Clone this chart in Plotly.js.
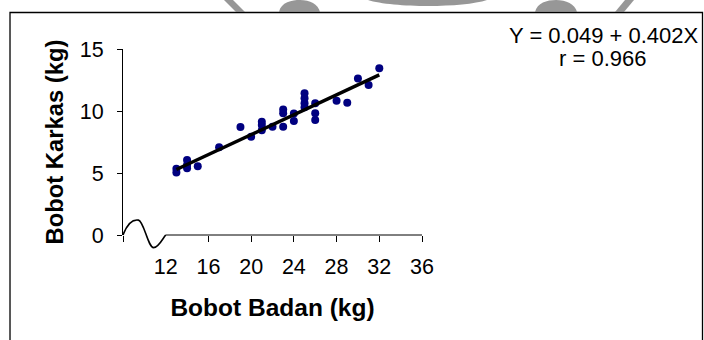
<!DOCTYPE html>
<html>
<head>
<meta charset="utf-8">
<script src="https://cdn.plot.ly/plotly-3.0.1.min.js"></script>
<style>
html,body{margin:0;padding:0;background:#fff;}
#chart{width:704px;height:340px;}
</style>
</head>
<body>
<div id="chart"></div>
<script>
// Data
var bobotBadan  = [13, 13, 14, 14, 14, 15, 17, 19, 20, 21, 21, 21, 22, 23, 23, 23, 24, 24, 25, 25, 25, 25, 26, 26, 26, 28, 29, 30, 31, 32];
var bobotKarkas = [5.35, 5.05, 6.05, 5.65, 5.38, 5.55, 7.07, 8.7, 7.92, 9.14, 8.87, 8.45, 8.73, 10.13, 9.81, 8.73, 9.8, 9.19, 11.43, 11.02, 10.62, 10.3, 10.63, 9.81, 9.27, 10.83, 10.67, 12.63, 12.1, 13.44];
var fitX = [13, 32];
var fitY = [5.28, 12.91];
var xTickVals = [12, 16, 20, 24, 28, 32, 36];
var xTickText = ['12', '16', '20', '24', '28', '32', '36'];
var yTickVals = [0, 5, 10, 15];
var eqLine1 = 'Y = 0.049 + 0.402X';
var eqLine2 = 'r = 0.966';

var FONT = '"Liberation Sans", Arial, sans-serif';

// layout geometry
var W = 704, H = 340, L = 123, R = 282, T = 49, B = 105;
var pw = W - L - R, ph = H - T - B;
function px(xp) { return (xp - L) / pw; }
function py(yp) { return (H - B - yp) / ph; }

var traces = [
  {
    x: bobotBadan, y: bobotKarkas, type: 'scatter', mode: 'markers',
    marker: {color: '#000080', size: 8},
    cliponaxis: false, hoverinfo: 'x+y', showlegend: false
  },
  {
    x: fitX, y: fitY, type: 'scatter', mode: 'lines',
    line: {color: '#000000', width: 3.5}, showlegend: false
  }
];

var grey = 'rgba(125,125,125,0.8)';
function P(a, b) { return px(a).toFixed(4) + ',' + py(b).toFixed(4); }

var shapes = [
  // x axis line (after the break)
  {type: 'line', xref: 'x', yref: 'paper', x0: 12, x1: 36, y0: 0, y1: 0,
   line: {color: '#000', width: 1}},
  // axis break wave
  {type: 'path', xref: 'x', yref: 'paper',
   path: 'M 8,0 C 8.4,0.06 8.95,0.085 9.45,0.08 C 9.95,0.075 10.35,-0.068 10.86,-0.068 C 11.35,-0.068 11.7,-0.02 12,0',
   line: {color: '#000', width: 1.6}},
  // outer frame
  {type: 'path', xref: 'paper', yref: 'paper',
   path: 'M ' + P(10, 345) + ' L ' + P(10, 12.5) + ' L ' + P(702.5, 12.5) + ' L ' + P(702.5, 345),
   line: {color: '#000', width: 1.3}},
  // watermark fragments above the frame
  {type: 'path', xref: 'paper', yref: 'paper', fillcolor: grey, line: {width: 0},
   path: 'M ' + P(224, 0) + ' L ' + P(233, 0) + ' L ' + P(245, 12) + ' L ' + P(236, 12) + ' Z'},
  {type: 'path', xref: 'paper', yref: 'paper', fillcolor: grey, line: {width: 0},
   path: 'M ' + P(279, 12) + ' C ' + P(281, 2) + ' ' + P(292, 0) + ' ' + P(300, 0) + ' C ' + P(310, 0) + ' ' + P(318, 4) + ' ' + P(320, 12) + ' Z'},
  {type: 'path', xref: 'paper', yref: 'paper', fillcolor: grey, line: {width: 0},
   path: 'M ' + P(368, 0) + ' C ' + P(380, 4) + ' ' + P(405, 6) + ' ' + P(428, 6) + ' C ' + P(452, 6) + ' ' + P(475, 4) + ' ' + P(487, 0) + ' Z'},
  {type: 'path', xref: 'paper', yref: 'paper', fillcolor: grey, line: {width: 0},
   path: 'M ' + P(535, 12) + ' C ' + P(537, 3) + ' ' + P(547, 0) + ' ' + P(556, 0) + ' C ' + P(566, 0) + ' ' + P(575, 4) + ' ' + P(577, 12) + ' Z'},
  {type: 'path', xref: 'paper', yref: 'paper', fillcolor: grey, line: {width: 0},
   path: 'M ' + P(625, 0) + ' L ' + P(634, 0) + ' L ' + P(624, 12) + ' L ' + P(615, 12) + ' Z'}
];

var layout = {
  width: W, height: H,
  margin: {l: L, r: R, t: T, b: B, pad: 0},
  paper_bgcolor: '#fff', plot_bgcolor: 'rgba(0,0,0,0)',
  font: {family: FONT, color: '#000'},
  showlegend: false,
  xaxis: {
    range: [8, 36], showline: false, zeroline: false, showgrid: false,
    tickmode: 'array', tickvals: xTickVals, ticktext: xTickText,
    ticks: '', ticklen: 0, ticklabelstandoff: 16,
    minor: {tickmode: 'array', tickvals: [8, 16, 20, 24, 28, 32, 36], ticks: 'outside', ticklen: 6, tickcolor: '#000', tickwidth: 1, showgrid: false},
    tickfont: {family: FONT, size: 21.5, color: '#000'},
    title: {text: '<b>Bobot Badan (kg)</b>', font: {family: FONT, size: 24.5, color: '#000'}, standoff: 21},
    automargin: false, fixedrange: true
  },
  yaxis: {
    range: [0, 15], showline: true, linecolor: '#000', linewidth: 1,
    zeroline: false, showgrid: false,
    tickmode: 'array', tickvals: yTickVals,
    ticks: 'outside', ticklen: 5, tickcolor: '#000', ticklabelstandoff: 9,
    tickfont: {family: FONT, size: 21.5, color: '#000'},
    title: {text: '<b>Bobot Karkas (kg)</b>', font: {family: FONT, size: 23.8, color: '#000'}, standoff: 9},
    automargin: false, fixedrange: true
  },
  shapes: shapes,
  annotations: [
    {xref: 'paper', yref: 'paper', x: px(507), y: py(35), xanchor: 'left', yanchor: 'middle',
     text: eqLine1, showarrow: false, font: {family: FONT, size: 22, color: '#000'}},
    {xref: 'paper', yref: 'paper', x: px(602), y: py(59), xanchor: 'center', yanchor: 'middle',
     text: eqLine2, showarrow: false, font: {family: FONT, size: 22, color: '#000'}}
  ]
};

Plotly.newPlot('chart', traces, layout, {displayModeBar: false, staticPlot: true});
</script>
</body>
</html>
